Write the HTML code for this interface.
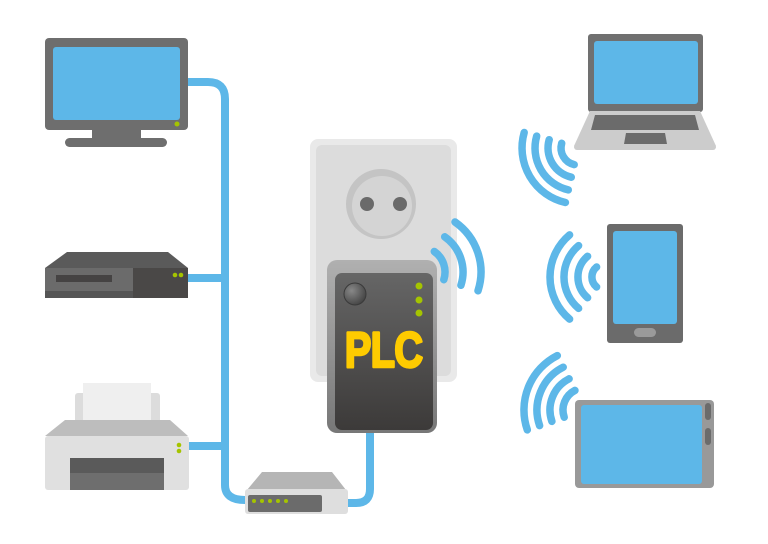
<!DOCTYPE html>
<html><head><meta charset="utf-8"><style>
html,body{margin:0;padding:0;background:#fff;}
svg{display:block;}
</style></head><body>
<svg width="768" height="544" viewBox="0 0 768 544" xmlns="http://www.w3.org/2000/svg">
<defs>
<linearGradient id="plug" x1="0" y1="0" x2="0" y2="1"><stop offset="0" stop-color="#666"/><stop offset="1" stop-color="#3c3a39"/></linearGradient>
<linearGradient id="bev" x1="0" y1="0" x2="0" y2="1"><stop offset="0" stop-color="#b0b0b0"/><stop offset="1" stop-color="#777"/></linearGradient>
<radialGradient id="btn" cx="0.35" cy="0.35" r="0.7"><stop offset="0" stop-color="#888"/><stop offset="1" stop-color="#444"/></radialGradient>
</defs>
<g fill="none" stroke="#5db7e8" stroke-width="8">
<path d="M186 82 H208 Q225 82 225 99 V485 Q225 500 245 500"/>
<line x1="186" y1="278" x2="225" y2="278"/>
<line x1="186" y1="446" x2="225" y2="446"/>
<path d="M346 503 H356 Q370 503 370 489 V428"/>
</g>
<rect x="45" y="38" width="143" height="92" rx="4" fill="#6e6e6e"/>
<rect x="53" y="47" width="127" height="73" rx="3" fill="#5db7e8"/>
<circle cx="177" cy="124" r="2.5" fill="#a5c400"/>
<rect x="92" y="128" width="49" height="11" fill="#6e6e6e"/>
<rect x="65" y="138" width="102" height="9" rx="4.5" fill="#6e6e6e"/>
<polygon points="67,252 168,252 188,268 45,268" fill="#5a5a5a"/>
<rect x="45" y="268" width="88" height="30" fill="#6b6b6b"/>
<rect x="45" y="291" width="88" height="7" fill="#555"/>
<rect x="56" y="275" width="56" height="7" fill="#454343"/>
<rect x="133" y="268" width="55" height="30" fill="#4a4847"/>
<circle cx="175" cy="275" r="2.3" fill="#a5c400"/><circle cx="181" cy="275" r="2.3" fill="#a5c400"/>
<rect x="75" y="393" width="85" height="34" rx="3" fill="#dcdcdc"/>
<rect x="83" y="383" width="68" height="40" fill="#efefef"/>
<rect x="74" y="423" width="86" height="4" fill="#8a8a8a"/>
<polygon points="65,420 170,420 188,436 45,436" fill="#bdbdbd"/>
<rect x="45" y="436" width="144" height="54" rx="3" fill="#e0e0e0"/>
<rect x="70" y="458" width="94" height="32" fill="#6e6e6e"/>
<rect x="70" y="458" width="94" height="15" fill="#5a5a5a"/>
<circle cx="179" cy="445" r="2.3" fill="#a5c400"/><circle cx="179" cy="451" r="2.3" fill="#a5c400"/>
<polygon points="262,472 332,472 346,490 247,490" fill="#b5b5b5"/>
<rect x="245" y="489" width="103" height="25" rx="3" fill="#dedede"/>
<rect x="248" y="495" width="74" height="17" rx="2" fill="#6b6b6b"/>
<g fill="#a5c400"><circle cx="254" cy="501" r="2"/><circle cx="262" cy="501" r="2"/><circle cx="270" cy="501" r="2"/><circle cx="278" cy="501" r="2"/><circle cx="286" cy="501" r="2"/></g>
<rect x="310" y="139" width="147" height="243" rx="8" fill="#e9e9e9"/>
<rect x="316" y="145" width="135" height="231" rx="6" fill="#dcdcdc"/>
<circle cx="381" cy="204" r="35" fill="#c4c4c4"/>
<circle cx="382" cy="206" r="30" fill="#d4d4d4"/>
<circle cx="367" cy="204" r="7" fill="#6a6a6a"/>
<circle cx="400" cy="204" r="7" fill="#6a6a6a"/>
<g fill="none" stroke="#5db7e8" stroke-width="7.5" stroke-linecap="round">
<path d="M434.3 251.5 A25 25 0 0 1 443.8 279.7"/>
<path d="M444.7 236.8 A43 43 0 0 1 460.9 285.3"/>
<path d="M455 222 A61 61 0 0 1 478 290.8"/>
</g>
<rect x="327" y="260" width="110" height="173" rx="10" fill="url(#bev)"/>
<rect x="335" y="273" width="98" height="157" rx="7" fill="url(#plug)"/>
<circle cx="355" cy="294" r="11" fill="url(#btn)" stroke="#3a3a3a" stroke-width="1"/>
<g fill="#a5c400"><circle cx="419" cy="286" r="3.5"/><circle cx="419" cy="300" r="3.5"/><circle cx="419" cy="313" r="3.5"/></g>
<text x="384" y="367" text-anchor="middle" font-family="Liberation Sans, sans-serif" font-weight="bold" font-size="50" fill="#fecb00" stroke="#fecb00" stroke-width="2.5" stroke-linejoin="round" transform="translate(384 0) scale(0.8 1) translate(-384 0)" textLength="98">PLC</text>
<rect x="588" y="34" width="115" height="78" rx="3" fill="#707070"/>
<rect x="594" y="41" width="104" height="63" rx="3" fill="#5db7e8"/>
<polygon points="590,111 700,111 716,146 574,146" fill="#cccccc"/>
<rect x="574" y="144" width="142" height="6" rx="3" fill="#cccccc"/>
<polygon points="595,115 695,115 699,130 591,130" fill="#6b6b6b"/>
<polygon points="626,133 665,133 667,144 624,144" fill="#6b6b6b"/>
<rect x="607" y="224" width="76" height="119" rx="3" fill="#6b6b6b"/>
<rect x="613" y="231" width="64" height="93" rx="3" fill="#5db7e8"/>
<rect x="634" y="328" width="22" height="9" rx="4.5" fill="#9a9a9a"/>
<rect x="575" y="400" width="139" height="88" rx="4" fill="#999"/>
<rect x="581" y="405" width="121" height="79" rx="3" fill="#5db7e8"/>
<rect x="705" y="403" width="6" height="17" rx="3" fill="#6b6b6b"/>
<rect x="705" y="428" width="6" height="17" rx="3" fill="#6b6b6b"/>
<g fill="none" stroke="#5db7e8" stroke-width="7.5" stroke-linecap="round">
<path d="M561.7 143.3 A17 17 0 0 0 574.2 164.6"/>
<path d="M549.2 139.7 A30 30 0 0 0 571.3 177.2"/>
<path d="M536.7 136.1 A43 43 0 0 0 568.3 189.9"/>
<path d="M524.2 132.5 A56 56 0 0 0 565.4 202.5"/>
<path d="M596.6 267 A13 13 0 0 0 596.6 287"/>
<path d="M587.6 256.3 A27 27 0 0 0 587.6 297.7"/>
<path d="M578.6 245.6 A41 41 0 0 0 578.6 308.4"/>
<path d="M569.6 234.9 A55 55 0 0 0 569.6 319.1"/>
<path d="M575 390.4 A22 22 0 0 0 564.2 417.2"/>
<path d="M569.1 378.8 A35 35 0 0 0 551.9 421.4"/>
<path d="M563.2 367.2 A48 48 0 0 0 539.6 425.6"/>
<path d="M557.3 355.6 A61 61 0 0 0 527.3 429.9"/>
</g>
</svg>
</body></html>
